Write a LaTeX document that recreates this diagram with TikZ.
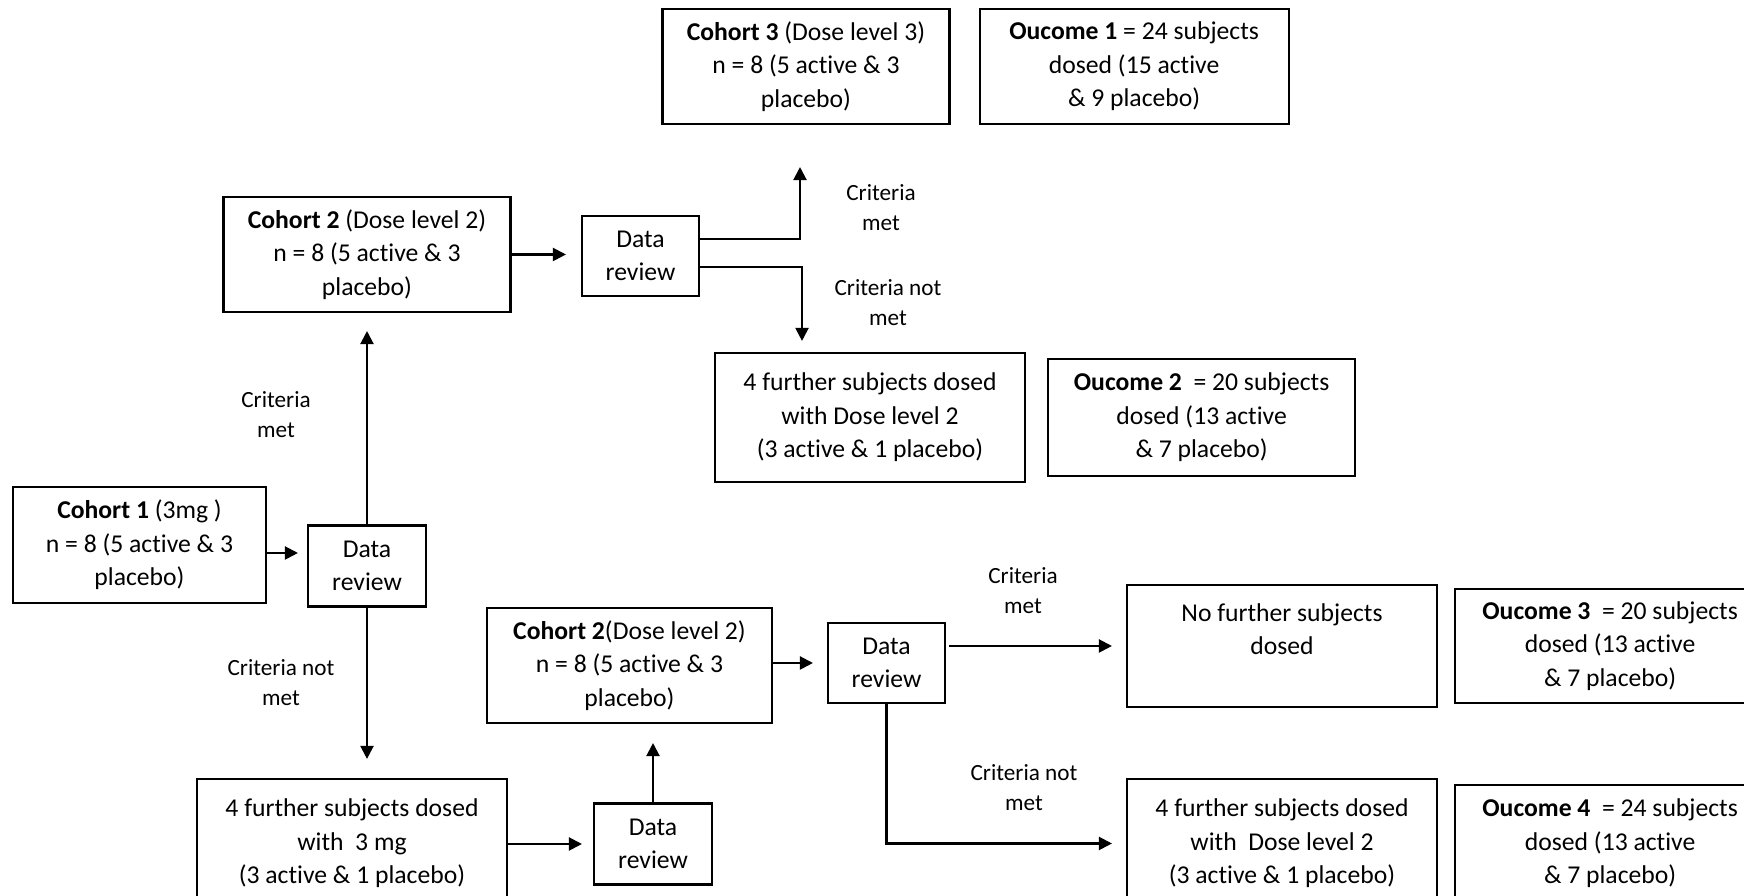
\documentclass[tikz,border=0pt]{standalone}
\usepackage{fontspec}
\setmainfont{Carlito}[Ligatures=NoCommon]
\usepackage{tikz}
\usetikzlibrary{arrows.meta,positioning}

\begin{document}
\begin{tikzpicture}[x=1mm, y=1mm, node distance=2mm,
  every node/.style={font=\fontsize{7.3}{9.5}\selectfont},
  box/.style={draw,line width=0.6pt,align=center,inner sep=0.5mm},
  cohort/.style={box,minimum width=28.7mm,minimum height=11.5mm},
  wide/.style={box,minimum width=31mm,minimum height=12.9mm},
  review/.style={box,minimum width=11.8mm,minimum height=8.1mm},
  lbl/.style={align=center,font=\fontsize{6.6}{8.6}\selectfont},
  arr/.style={line width=0.6pt,-{Triangle[length=1.3mm,width=1.3mm]},shorten >=1.5mm}]
  \useasboundingbox (0,0) rectangle (174.4,89.6);
  % first cohort and its review
  \node[box,minimum width=25.3mm,minimum height=11.6mm] (c1) at (13.95,35.1) {\textbf{Cohort 1} (3mg )\\n = 8 (5 active \& 3\\placebo)};
  \node[review] (dr1) at (36.7,33.0) {Data\\review};
  % criteria met branch
  \node[cohort] (c2) at (36.7,64.15) {\textbf{Cohort 2} (Dose level 2)\\n = 8 (5 active \& 3\\placebo)};
  \node[review,minimum width=11.7mm,minimum height=8mm] (dr2) at (64.05,64.0) {Data\\review};
  \node[cohort] (c3) at (80.6,82.95) {\textbf{Cohort 3} (Dose level 3)\\n = 8 (5 active \& 3\\placebo)};
  \node[box,minimum width=30.9mm,minimum height=11.5mm,right=2.8mm of c3] (o1) {\textbf{Oucome 1} = 24 subjects\\dosed (15 active\\\& 9 placebo)};
  \node[wide] (f2) at (87.0,47.85) {4 further subjects dosed\\with Dose level 2\\(3 active \& 1 placebo)};
  \node[box,minimum width=30.7mm,minimum height=11.7mm,right=2.1mm of f2] (o2) {\textbf{Oucome 2}\ \ = 20 subjects\\dosed (13 active\\\& 7 placebo)};
  % criteria not met branch
  \node[wide] (f1) at (35.2,5.25) {4 further subjects dosed\\with\ \ 3 mg\\(3 active \& 1 placebo)};
  \node[review] (dr3) at (65.3,5.2) {Data\\review};
  \node[cohort,minimum width=28.5mm] (c2b) at (62.95,23.05) {\textbf{Cohort 2}(Dose level 2)\\n = 8 (5 active \& 3\\placebo)};
  \node[review,minimum width=11.7mm,minimum height=8mm] (dr4) at (88.65,23.3) {Data\\review};
  \node[wide,minimum height=12.2mm] (nof) at (128.2,25.0) {No further subjects\\dosed\\~};
  \node[box,minimum width=31mm,minimum height=11.4mm,right=1.6mm of nof] (o3) {\textbf{Oucome 3}\ \ = 20 subjects\\dosed (13 active\\\& 7 placebo)};
  \node[wide] (f3) at (128.2,5.25) {4 further subjects dosed\\with\ \ Dose level 2\\(3 active \& 1 placebo)};
  \node[box,minimum width=31mm,minimum height=11.7mm,right=1.6mm of f3] (o4) {\textbf{Oucome 4}\ \ = 24 subjects\\dosed (13 active\\\& 7 placebo)};
  % labels
  \node[lbl] (l1) at (27.6,48.1) {Criteria\\met};
  \node[lbl] (l2) at (28.1,21.3) {Criteria not\\met};
  \node[lbl] (l3) at (88.1,68.8) {Criteria\\met};
  \node[lbl] (l4) at (88.8,59.3) {Criteria not\\met};
  \node[lbl] (l5) at (102.3,30.5) {Criteria\\met};
  \node[lbl] (l6) at (102.4,10.8) {Criteria not\\met};
  % arrows
  \draw[arr,shorten >=0.9mm] ([yshift=-0.8mm]c1.east) -- ([yshift=-0.8mm]c1.east -| dr1.west);
  \draw[arr,shorten >=1.8mm] (dr1.north) -- (dr1.north |- c2.south);
  \draw[arr,shorten >=1.9mm] (dr1.south) -- (dr1.south |- f1.north);
  \draw[arr] (c2.east) -- (c2.east -| dr2.west);
  \draw[arr,shorten >=4.2mm] ([yshift=1.7mm]dr2.east) -| ([xshift=-0.6mm]c3.south);
  \draw[arr,shorten >=1.1mm] ([yshift=-1.1mm]dr2.east) -| ([xshift=-6.8mm]f2.north);
  \draw[arr,shorten >=1.1mm] (f1.east |- dr3) -- (dr3.west);
  \draw[arr,shorten >=1.9mm] (dr3.north) -- (dr3.north |- c2b.south);
  \draw[arr,shorten >=1.4mm] (c2b.east |- dr4) -- (dr4.west);
  \draw[arr,shorten >=1.4mm] ([xshift=0.3mm]dr4.east |- nof) -- (nof.west);
  \draw[arr,shorten >=1.4mm] (dr4.south) |- (f3.west);
\end{tikzpicture}
\end{document}
